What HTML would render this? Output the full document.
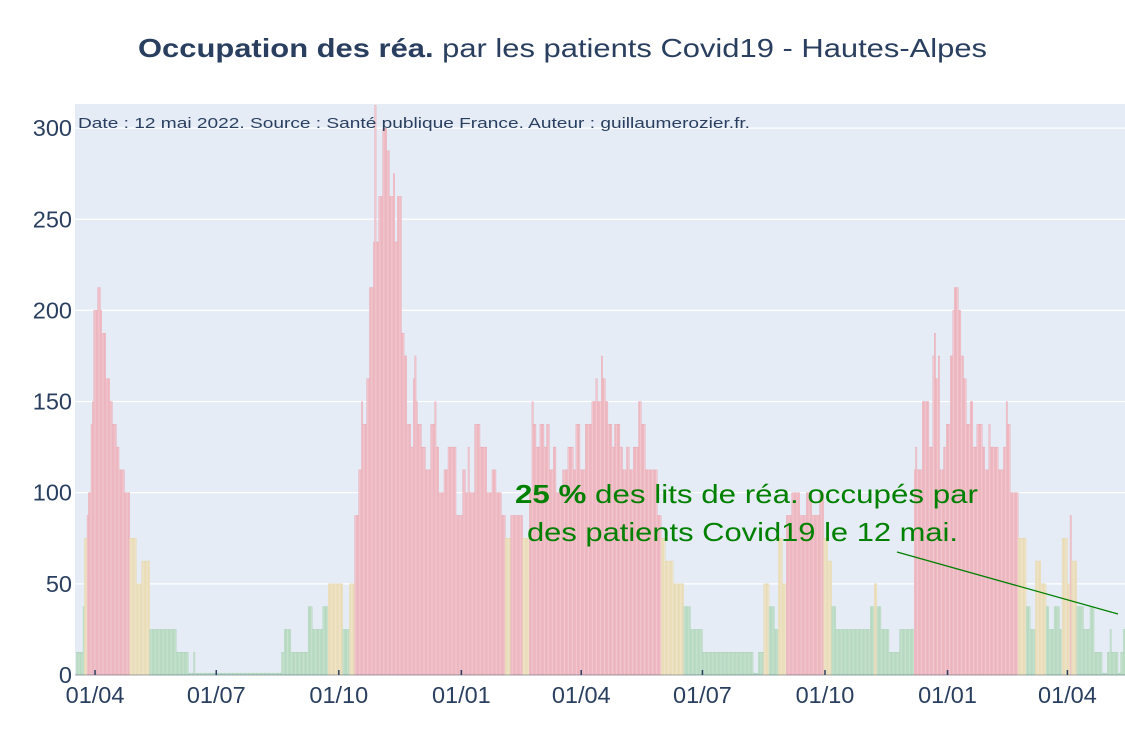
<!DOCTYPE html>
<html><head><meta charset="utf-8">
<style>
body{margin:0;background:#fff;}
svg{display:block;font-family:"Liberation Sans","DejaVu Sans",sans-serif;}
</style></head>
<body>
<svg id="chart" width="1125" height="750">
  <text x="138" y="57" font-size="26" fill="#2a3f5f" textLength="849" lengthAdjust="spacingAndGlyphs"><tspan font-weight="bold">Occupation des réa.</tspan> par les patients Covid19 - Hautes-Alpes</text>
  <rect x="75" y="104" width="1050" height="571" fill="#e5ecf6"/>
  <g id="grid"></g>
  <g id="bars"></g>
  <g id="yticks"></g>
  <g id="xticks"></g>
  <text x="78" y="128" font-size="15" fill="#2a3f5f" textLength="672" lengthAdjust="spacingAndGlyphs">Date : 12 mai 2022. Source : Santé publique France. Auteur : guillaumerozier.fr.</text>
  <text x="515" y="503" font-size="26" fill="#008000" textLength="463" lengthAdjust="spacingAndGlyphs"><tspan font-weight="bold">25  %</tspan> des lits de réa. occupés par</text>
  <text x="527" y="541" font-size="26" fill="#008000" textLength="431" lengthAdjust="spacingAndGlyphs">des patients Covid19 le 12 mai.</text>
  <line x1="897" y1="552" x2="1118" y2="614" stroke="#008000" stroke-width="1.3"/>
</svg>
<script>
// Data: runs of [occupancy %, number of days], starting 2020-03-18
const startDate = "2020-03-18";
const runValues = [12.5,37.5,75,87.5,100,137.5,150,200,212.5,200,187.5,162.5,150,137.5,125,112.5,100,75,50,62.5,25,12.5,1,12.5,1,12.5,25,12.5,37.5,25,37.5,50,50,25,50,
87.5,112.5,150,137.5,162.5,212.5,237.5,312.5,237.5,262.5,300,287.5,262.5,275,237.5,262.5,187.5,175,137.5,125,162.5,175,150,137.5,125,112.5,137.5,150,125,100,112.5,125,87.5,112.5,100,125,100,137.5,125,100,112.5,100,87.5,75,87.5,
75,100,150,137.5,125,137.5,125,137.5,112.5,125,100,112.5,125,112.5,137.5,112.5,137.5,150,162.5,150,175,162.5,150,137.5,125,137.5,125,112.5,125,112.5,125,150,137.5,112.5,87.5,75,62.5,50,37.5,25,
12.5,1,12.5,50,37.5,25,75,50,87.5,100,87.5,100,87.5,100,75,62.5,37.5,25,37.5,50,37.5,25,12.5,25,
112.5,125,112.5,150,125,175,187.5,162.5,175,112.5,125,137.5,175,200,212.5,200,175,162.5,137.5,150,125,137.5,137.5,125,112.5,137.5,125,112.5,125,150,137.5,100,75,37.5,25,62.5,50,37.5,25,37.5,25,75,50,87.5,62.5,37.5,25,37.5,12.5,1,12.5,25,12.5,1,12.5,25];
const runDays = [5,1,2,1,2,1,1,3,2,1,3,3,2,3,2,4,4,5,4,6,20,9,4,1,65,2,5,13,3,8,4,7,4,5,4,
3,2,1,3,2,3,1,1,2,3,3,2,3,1,2,3,2,2,3,2,1,1,1,3,3,4,3,1,2,4,3,6,5,2,2,1,4,4,5,4,3,4,3,4,9,
5,2,1,2,3,3,2,2,3,2,5,4,4,2,3,4,5,3,1,3,1,2,2,3,2,4,2,3,2,3,4,2,3,9,3,3,6,8,5,9,
38,4,4,4,4,3,3,3,4,6,5,4,6,3,3,3,3,26,3,2,3,6,8,11,
1,1,4,5,3,1,1,2,1,3,2,3,2,1,3,2,2,2,3,2,3,2,2,2,3,1,6,4,2,1,2,6,6,3,4,4,4,2,4,4,2,4,2,1,4,5,5,3,6,4,2,1,5,2,2,3];
const yTickValues = [0,50,100,150,200,250,300];
const xTickDates = ["2020-04-01","2020-07-01","2020-10-01","2021-01-01","2021-04-01","2021-07-01","2021-10-01","2022-01-01","2022-04-01"];
const xTickLabels = ["01/04","01/07","01/10","01/01","01/04","01/07","01/10","01/01","01/04"];

const NS="http://www.w3.org/2000/svg";
const PX_DAY=1.332, DAY_MS=86400000;
const t0=Date.parse(startDate);
function xDay(i){return 76.4+i*PX_DAY;}
function xDate(s){return xDay((Date.parse(s)-t0)/DAY_MS);}
function y(v){return 675-v*1.823;}
function mk(tag,attrs){const e=document.createElementNS(NS,tag);for(const k in attrs)e.setAttribute(k,attrs[k]);return e;}

const grid=document.getElementById('grid'), yt=document.getElementById('yticks'), xt=document.getElementById('xticks'), bars=document.getElementById('bars');
yTickValues.forEach(v=>{
  if(v>0){const l=mk('line',{x1:75,x2:1125,y1:y(v),y2:y(v),stroke:'#fff','stroke-width':1.2});
  
  
  grid.appendChild(l);}
  const t=mk('text',{x:72,y:y(v)+8,'text-anchor':'end','font-size':23.5,fill:'#2a3f5f'});
  t.textContent=v;
  
  
  yt.appendChild(t);
});
const values=[];
runValues.forEach((v,k)=>{for(let j=0;j<runDays[k];j++)values.push(v);});
values.forEach((v,i)=>{
  const cx=xDay(i); if(cx>1125) return;
  let fill,stroke;
  if(v>=80){fill='#f3cad1';stroke='#e6a2ae';}
  else if(v>=40){fill='#efe6cc';stroke='#e4d3a6';}
  else{fill='#c9e3d1';stroke='#a6d0b2';}
  const h=Math.max(v*1.823,0.6);
  const r=mk('rect',{x:cx,y:675-h,width:PX_DAY,height:h,fill:fill,stroke:stroke,'stroke-width':0.4});
  
  
  bars.appendChild(r);
});
const base=mk('line',{x1:75,x2:1125,y1:675,y2:675,stroke:'#2a3f5f','stroke-width':1,'stroke-opacity':0.4});


xt.appendChild(base);
xTickDates.forEach((d,k)=>{
  const x=xDate(d);
  const tk=mk('line',{x1:x,x2:x,y1:670,y2:675,stroke:'#2a3f5f','stroke-width':1.5});
  
  
  xt.appendChild(tk);
  const t=mk('text',{x:x,y:703,'text-anchor':'middle','font-size':23.5,fill:'#2a3f5f'});
  t.textContent=xTickLabels[k];
  
  
  xt.appendChild(t);
});
</script>
</body></html>
